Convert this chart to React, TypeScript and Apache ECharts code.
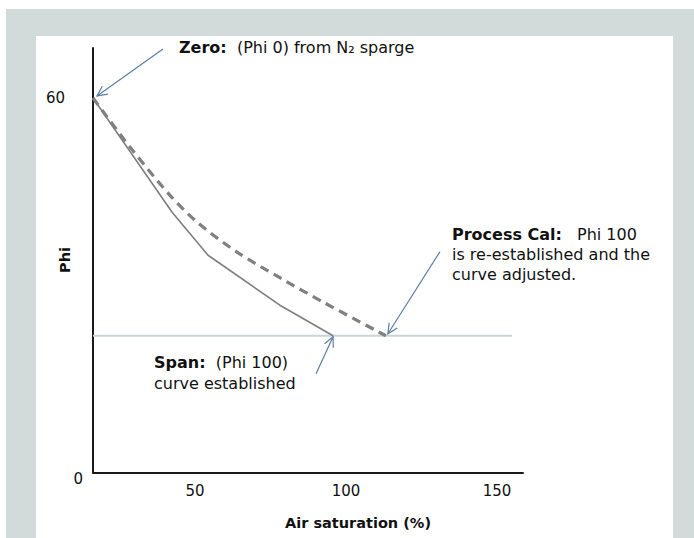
import React, { useEffect, useRef } from "react";
import * as echarts from "echarts";

// ---- data ----
const xTickValues = [50, 100, 150];
const yTickValues = [0, 60];
const xRange = [16.2, 158.6];
const yRange = [0, 68];

// initial calibration curve (solid)
const solidX = [16.2, 42.4, 54.3, 78.1, 95.7];
const solidY = [60.0, 41.7, 34.8, 26.8, 21.9];

// process-calibrated curve (dashed)
const dashedX = [16.2, 28.5, 41.7, 50.7, 63.9, 78.1, 92.4, 113.2];
const dashedY = [60.0, 52.1, 44.4, 40.1, 35.3, 31.2, 27.3, 21.9];

// Phi 100 reference level
const refX = [16.2, 155.0];
const refY = [21.9, 21.9];

const FONT = "'DejaVu Sans', Verdana, sans-serif";
const TEXT = "#111111";
const ARROW = "#5b7ea6";

const zip = (xs: number[], ys: number[]) => xs.map((x, i) => [x, ys[i]]);

function arrow(tail: number[], tip: number[]) {
  const dx = tip[0] - tail[0];
  const dy = tip[1] - tail[1];
  const len = Math.hypot(dx, dy);
  const ux = dx / len;
  const uy = dy / len;
  const L = 11;
  const a = 0.45;
  const rot = (ang: number) => [ux * Math.cos(ang) - uy * Math.sin(ang), ux * Math.sin(ang) + uy * Math.cos(ang)];
  const r1 = rot(a);
  const r2 = rot(-a);
  const arm1 = [tip[0] - L * r1[0], tip[1] - L * r1[1]];
  const arm2 = [tip[0] - L * r2[0], tip[1] - L * r2[1]];
  return [
    {
      type: "line",
      z: 100,
      shape: { x1: tail[0], y1: tail[1], x2: tip[0], y2: tip[1] },
      style: { stroke: ARROW, lineWidth: 1.2 },
    },
    {
      type: "polyline",
      z: 100,
      shape: { points: [arm1, tip, arm2] },
      style: { stroke: ARROW, lineWidth: 1.2, fill: null },
    },
  ];
}

export default function App() {
  const ref = useRef<HTMLDivElement>(null);

  useEffect(() => {
    if (!ref.current) return;
    const chart = echarts.init(ref.current, null, { renderer: "svg" });
    const option: any = {
      animation: false,
      backgroundColor: "transparent",
      grid: { left: 93, top: 48, right: 171, bottom: 65.5, containLabel: false },
      xAxis: {
        type: "value",
        min: xRange[0],
        max: xRange[1],
        axisLine: { show: true, onZero: false, lineStyle: { color: "#1a1a1a", width: 2 } },
        axisTick: { show: false },
        splitLine: { show: false },
        axisLabel: {
          customValues: xTickValues,
          margin: 11,
          fontSize: 15,
          fontFamily: FONT,
          color: TEXT,
        },
      },
      yAxis: {
        type: "value",
        min: yRange[0],
        max: yRange[1],
        axisLine: { show: true, lineStyle: { color: "#1a1a1a", width: 2 } },
        axisTick: { show: false },
        splitLine: { show: false },
        axisLabel: {
          customValues: yTickValues,
          margin: 10,
          fontSize: 15,
          fontFamily: FONT,
          color: TEXT,
          formatter: (v: number) => (v === 0 ? "{z|0}" : "{s|" + v + "}"),
          rich: {
            z: { fontSize: 15, fontFamily: FONT, color: TEXT, padding: [13, 0, 0, 0] },
            s: { fontSize: 15, fontFamily: FONT, color: TEXT, padding: [0, 18, 0, 0] },
          },
        },
      },
      series: [
        {
          type: "line",
          name: "Phi 100 level",
          data: zip(refX, refY),
          symbol: "none",
          lineStyle: { color: "#c8d4d6", width: 2 },
          z: 1,
        },
        {
          type: "line",
          name: "Initial curve",
          data: zip(solidX, solidY),
          symbol: "none",
          lineStyle: { color: "#7f7f7f", width: 1.6 },
          z: 3,
        },
        {
          type: "line",
          name: "Process cal curve",
          data: zip(dashedX, dashedY),
          symbol: "none",
          smooth: 0.3,
          lineStyle: { color: "#808080", width: 3.2, type: [9, 6] },
          z: 3,
        },
      ],
    };
    chart.setOption(option);

    const px = (x: number, y: number) => chart.convertToPixel({ gridIndex: 0 }, [x, y]) as number[];
    const start = px(solidX[0], solidY[0]);
    const solidEnd = px(solidX[solidX.length - 1], solidY[solidY.length - 1]);
    const dashedEnd = px(dashedX[dashedX.length - 1], dashedY[dashedY.length - 1]);

    const zeroTip = [start[0] + 4, start[1] - 2];
    const procTip = [dashedEnd[0] + 2, dashedEnd[1] - 2];
    const spanTip = [solidEnd[0], solidEnd[1] + 1];

    const graphic: any[] = [
      ...arrow([zeroTip[0] + 66, zeroTip[1] - 47], zeroTip),
      ...arrow([procTip[0] + 52, procTip[1] - 82], procTip),
      ...arrow([spanTip[0] - 17, spanTip[1] + 37], spanTip),
      {
        type: "text",
        left: 179,
        top: 39,
        style: {
          text: "{b|Zero:}  (Phi 0) from N₂ sparge",
          fontSize: 16,
          fontFamily: FONT,
          fill: TEXT,
          rich: { b: { fontWeight: "bold", fontSize: 16, fontFamily: FONT, fill: TEXT } },
        },
      },
      {
        type: "text",
        x: 452,
        y: 224,
        style: {
          text: "{b|Process Cal:}\nis re-established and the\ncurve adjusted.",
          fontSize: 16,
          fontFamily: FONT,
          fill: TEXT,
          lineHeight: 20,
          rich: { b: { fontWeight: "bold", fontSize: 16, fontFamily: FONT, fill: TEXT, lineHeight: 20 } },
        },
      },
      {
        type: "text",
        x: 577,
        y: 224,
        style: { text: "Phi 100", fontSize: 16, fontFamily: FONT, fill: TEXT, lineHeight: 20 },
      },
      {
        type: "text",
        x: 154,
        y: 352,
        style: {
          text: "{b|Span:}  (Phi 100)\ncurve established",
          fontSize: 16,
          fontFamily: FONT,
          fill: TEXT,
          lineHeight: 21,
          rich: { b: { fontWeight: "bold", fontSize: 16, fontFamily: FONT, fill: TEXT, lineHeight: 21 } },
        },
      },
      {
        type: "text",
        x: 358,
        y: 523,
        style: {
          text: "Air saturation (%)",
          fontSize: 14.5,
          fontWeight: "bold",
          fontFamily: FONT,
          fill: TEXT,
          textAlign: "center",
          textVerticalAlign: "middle",
        },
      },
      {
        type: "text",
        x: 65,
        y: 260,
        rotation: Math.PI / 2,
        style: {
          text: "Phi",
          fontSize: 14.5,
          fontWeight: "bold",
          fontFamily: FONT,
          fill: TEXT,
          textAlign: "center",
          textVerticalAlign: "middle",
        },
      },
    ];
    chart.setOption({ graphic });

    return () => chart.dispose();
  }, []);

  return (
    <div style={{ position: "fixed", left: 0, top: 0, width: 694, height: 538, background: "#ffffff", overflow: "hidden" }}>
      <div style={{ position: "absolute", left: 6, top: 9, right: 0, bottom: 0, background: "#d1dbda" }} />
      <div style={{ position: "absolute", left: 36, top: 36, width: 637, height: 502, background: "#ffffff" }} />
      <div ref={ref} style={{ position: "absolute", left: 0, top: 0, width: 694, height: 538 }} />
    </div>
  );
}
